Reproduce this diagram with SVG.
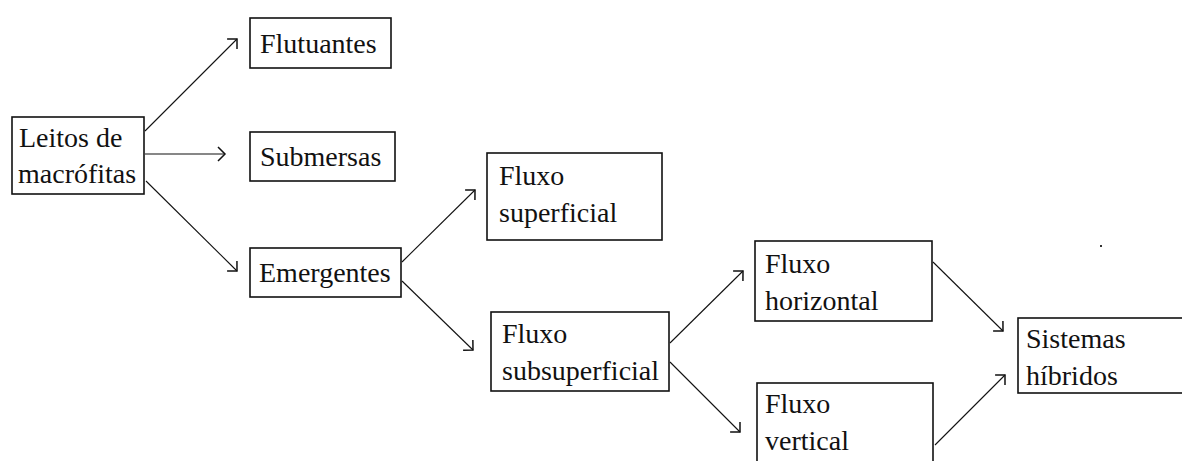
<svg xmlns="http://www.w3.org/2000/svg" width="1182" height="461" viewBox="0 0 1182 461">
<style>
.box{fill:#fff;stroke:#111;stroke-width:1.6}
.lbl{font-family:'Liberation Serif','Tinos','DejaVu Serif',serif;font-size:28px;fill:#111}
.con{stroke:#111;stroke-width:1.1;fill:none;marker-end:url(#ah)}
</style>
<defs>
<marker id="ah" markerUnits="userSpaceOnUse" viewBox="0 -2 14 16" markerWidth="14" markerHeight="16" refX="11" refY="6" orient="auto">
<path d="M4,-1 L11,6 L4,13" fill="none" stroke="#111" stroke-width="1.5"/>
</marker>
</defs>
<rect width="1182" height="461" fill="#fff"/>
<g id="connectors">
<line class="con" x1="145" y1="131" x2="237" y2="39"/>
<line class="con" x1="145" y1="154" x2="225" y2="154"/>
<line class="con" x1="146" y1="181" x2="237" y2="271"/>
<line class="con" x1="402" y1="262" x2="475" y2="190"/>
<line class="con" x1="402" y1="281" x2="473" y2="350"/>
<line class="con" x1="670" y1="343" x2="743" y2="271"/>
<line class="con" x1="670" y1="362" x2="740" y2="432"/>
<line class="con" x1="933" y1="262" x2="1003" y2="331"/>
<line class="con" x1="935" y1="445" x2="1005" y2="375"/>
</g>
<g id="leitos">
<rect class="box" x="12" y="117" width="132" height="77"/>
<text class="lbl" x="19" y="147">Leitos de</text>
<text class="lbl" x="18" y="183">macrófitas</text>
</g>
<g id="flutuantes">
<rect class="box" x="250" y="18" width="141" height="50"/>
<text class="lbl" x="260" y="53">Flutuantes</text>
</g>
<g id="submersas">
<rect class="box" x="250" y="132" width="145" height="49"/>
<text class="lbl" x="260" y="166">Submersas</text>
</g>
<g id="emergentes">
<rect class="box" x="250" y="248" width="151" height="49"/>
<text class="lbl" x="259" y="282">Emergentes</text>
</g>
<g id="superficial">
<rect class="box" x="487" y="153" width="175" height="87"/>
<text class="lbl" x="499" y="185">Fluxo</text>
<text class="lbl" x="499" y="222">superficial</text>
</g>
<g id="subsuperficial">
<rect class="box" x="491" y="312" width="178" height="79"/>
<text class="lbl" x="502" y="343">Fluxo</text>
<text class="lbl" x="502" y="380">subsuperficial</text>
</g>
<g id="horizontal">
<rect class="box" x="755" y="241" width="177" height="80"/>
<text class="lbl" x="765" y="273">Fluxo</text>
<text class="lbl" x="765" y="310">horizontal</text>
</g>
<g id="vertical">
<rect class="box" x="757" y="383" width="176" height="100"/>
<text class="lbl" x="765" y="413">Fluxo</text>
<text class="lbl" x="765" y="450">vertical</text>
</g>
<g id="hibridos">
<rect class="box" x="1018" y="318" width="180" height="75"/>
<text class="lbl" x="1026" y="348">Sistemas</text>
<text class="lbl" x="1026" y="385">híbridos</text>
</g>
<rect x="1100" y="245" width="2" height="2" fill="#333"/>
</svg>
